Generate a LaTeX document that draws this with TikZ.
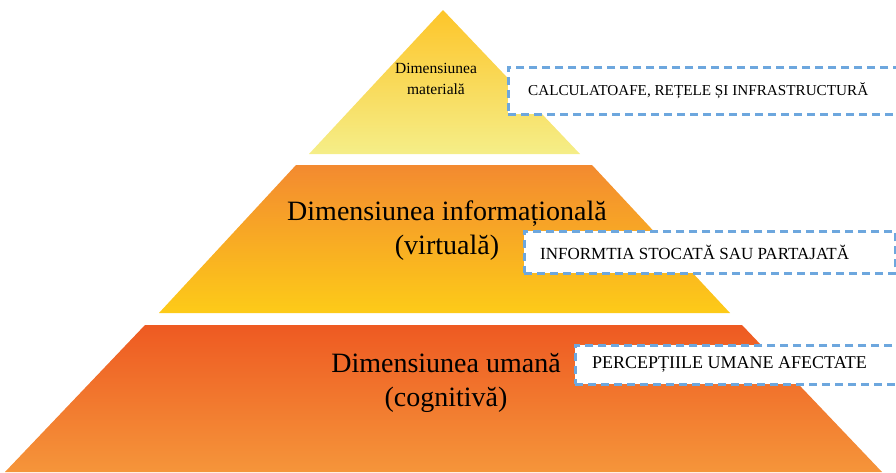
\documentclass[tikz,border=0pt]{standalone}
\usepackage{fontspec}
\setmainfont{Liberation Serif}
\definecolor{boxblue}{HTML}{6DA7DE}
\definecolor{t1top}{HTML}{FDC52A}
\definecolor{t1bot}{HTML}{F5EE88}
\definecolor{t2top}{HTML}{F38A30}
\definecolor{t2bot}{HTML}{FDCB18}
\definecolor{t3top}{HTML}{EE5A22}
\definecolor{t3bot}{HTML}{F5953A}
\tikzset{
  dashbox/.style={draw=boxblue, fill=white, line width=2.5pt, dash pattern=on 8pt off 5pt, rectangle, inner sep=0pt},
  boxtext/.style={anchor=west, inner sep=0pt},
  biglabel/.style={align=center, inner sep=0pt, font=\fontsize{28}{34}\selectfont},
}
\begin{document}
\begin{tikzpicture}[x=1pt,y=-1pt]
\useasboundingbox (0,0) rectangle (896,472);
\clip (0,0) rectangle (896,472);
% pyramid layers
\shade[top color=t1top, bottom color=t1bot] (443,10) -- (580,154) -- (309,154) -- cycle;
\shade[top color=t2top, bottom color=t2bot] (296,165) -- (592,165) -- (730,313) -- (159,313) -- cycle;
\shade[top color=t3top, bottom color=t3bot] (145,325) -- (742,325) -- (882,472) -- (5,472) -- cycle;
% labels in pyramid
\node[align=center, inner sep=0pt, font=\fontsize{15.5}{21}\selectfont] (lm) at (436,79) {Dimensiunea\\materială};
\node[biglabel] (li) at (447,231) {Dimensiunea informațională\\(virtuală)};
\node[biglabel] (lu) at (446,383) {Dimensiunea umană\\(cognitivă)};
% dashed boxes
\node[dashbox, anchor=north west, minimum width=420pt, minimum height=47pt] (b1) at (507,66) {};
\node[dashbox, anchor=north west, minimum width=371pt, minimum height=42pt] (b2) at (523,230) {};
\node[dashbox, anchor=north west, minimum width=360pt, minimum height=39pt] (b3) at (574,344) {};
\node[boxtext, font=\fontsize{15.2}{18}\selectfont] (t1) at ([xshift=21pt]b1.west) {CALCULATOAFE, REȚELE ȘI INFRASTRUCTURĂ};
\node[boxtext, font=\fontsize{17}{20}\selectfont] (t2) at ([xshift=17pt]b2.west) {INFORMTIA STOCATĂ SAU PARTAJATĂ};
\node[boxtext, font=\fontsize{18}{21}\selectfont] (t3) at ([xshift=18pt]b3.west) {PERCEPȚIILE UMANE AFECTATE};
\end{tikzpicture}
\end{document}
